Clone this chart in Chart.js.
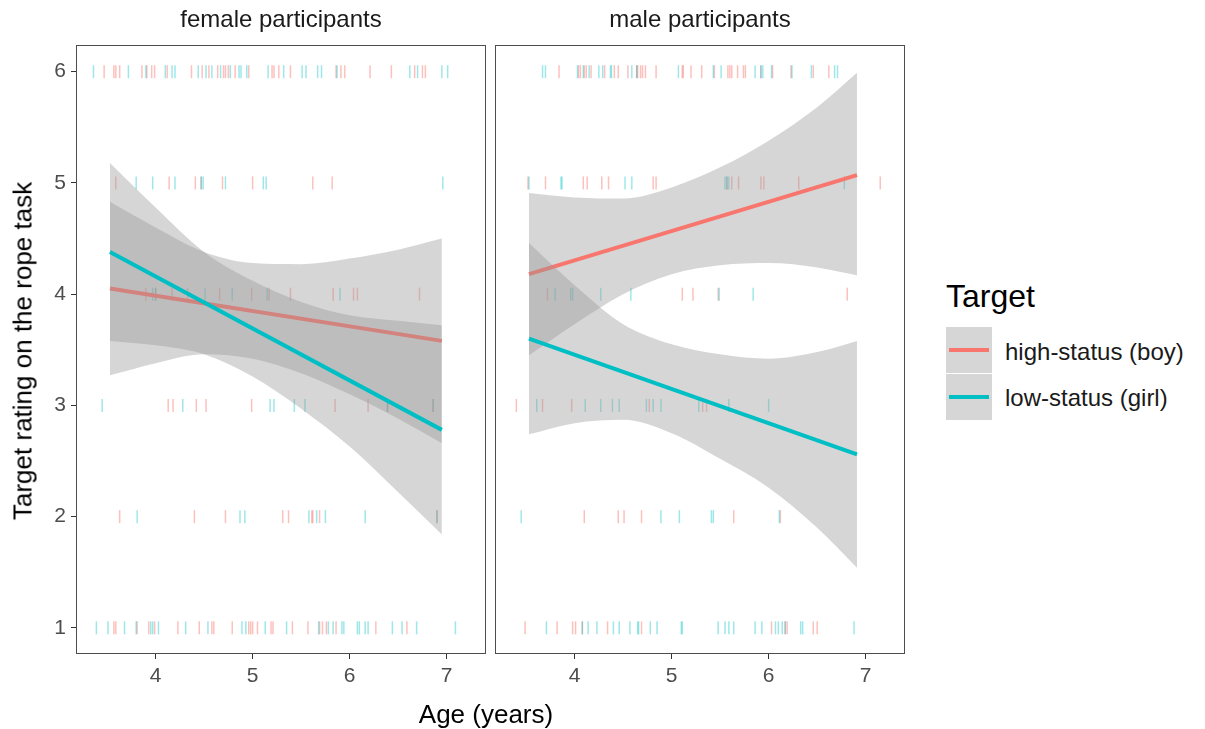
<!DOCTYPE html>
<html>
<head>
<meta charset="utf-8">
<script src="https://cdn.jsdelivr.net/npm/chart.js@4.4.1/dist/chart.umd.min.js"></script>
<style>
  body { margin: 0; background: #fff; width: 1205px; height: 729px; position: relative; overflow: hidden;
         font-family: "Liberation Sans", Arial, sans-serif; }
  .abs { position: absolute; }
  #c1 { left: 0; top: 0; }
  #c2 { left: 495px; top: 0; }
  .strip { top: 5px; font-size: 24px; color: #1a1a1a; text-align: center; width: 410px; }
  .key { left: 946px; width: 46px; height: 46px; background: #d6d6d6; }
  .key div { position: absolute; left: 3px; right: 3px; top: 21px; height: 4px; }
  .lab { left: 1005px; font-size: 24px; color: #1a1a1a; line-height: 28px; }
</style>
</head>
<body>
<canvas id="c1" class="abs" width="486" height="700"></canvas>
<canvas id="c2" class="abs" width="411" height="700"></canvas>

<div class="abs strip" style="left:76px">female participants</div>
<div class="abs strip" style="left:495px">male participants</div>
<div class="abs" style="left:0;width:972px;top:699px;text-align:center;font-size:26px;color:#000">Age (years)</div>
<div class="abs" style="left:23px;top:351px;font-size:26px;color:#000;white-space:nowrap;transform:translate(-50%,-50%) rotate(-90deg)">Target rating on the rope task</div>

<div class="abs" style="left:946px;top:278px;font-size:32px;color:#000">Target</div>
<div class="abs key" style="top:327px"><div style="background:#F8766D"></div></div>
<div class="abs key" style="top:374px"><div style="background:#00BFC4"></div></div>
<div class="abs lab" style="top:338px">high-status (boy)</div>
<div class="abs lab" style="top:384px">low-status (girl)</div>

<script>
// rug ticks: ages per rating, rows are ratings 6,5,4,3,2,1
const ratings = [6, 5, 4, 3, 2, 1];
const xTickValues = [4, 5, 6, 7];
const yTickValues = [1, 2, 3, 4, 5, 6];

const femaleHigh = [
  [3.47, 3.57, 3.59, 3.63, 3.86, 3.91, 3.96, 3.99, 4.12, 4.37, 4.48, 4.55, 4.64, 4.70, 4.72, 4.75, 4.82, 4.96, 5.20, 5.22, 5.27, 5.39, 5.86, 5.91, 5.95, 6.21, 6.43, 6.67, 6.75, 6.78],
  [3.59, 4.14, 4.41, 4.47, 4.69, 5.00, 5.62, 5.82],
  [3.90, 4.00, 4.17, 4.33, 4.66, 4.99, 5.17, 5.39, 5.83, 6.04, 6.08, 6.72],
  [4.13, 4.18, 4.42, 4.52, 4.99, 5.85, 6.19, 6.39, 6.86],
  [3.63, 4.40, 4.72, 5.31, 5.37, 5.61, 5.62, 5.69, 6.90],
  [3.57, 3.59, 3.81, 3.93, 3.99, 4.23, 4.45, 4.58, 4.60, 4.79, 4.96, 4.98, 5.00, 5.05, 5.19, 5.21, 5.41, 5.57, 5.69, 5.72, 5.76, 5.86, 6.27, 6.59]
];
const femaleLow = [
  [3.36, 3.72, 3.90, 4.10, 4.17, 4.20, 4.44, 4.52, 4.58, 4.67, 4.77, 4.86, 4.88, 4.94, 5.16, 5.32, 5.51, 5.55, 5.67, 5.71, 5.87, 6.62, 6.70, 6.95, 7.01],
  [3.80, 3.97, 4.20, 4.47, 4.49, 4.72, 5.11, 5.14, 6.96],
  [3.97, 4.00, 4.51, 4.79, 5.15, 5.90],
  [3.45, 4.28, 5.18, 5.22, 5.43, 5.54, 6.39, 6.86],
  [3.81, 4.87, 4.92, 5.58, 5.66, 5.75, 6.16, 6.90],
  [3.39, 3.51, 3.68, 3.80, 3.95, 3.97, 4.03, 4.31, 4.54, 4.89, 4.93, 5.13, 5.35, 5.68, 5.78, 5.83, 5.92, 5.94, 6.08, 6.10, 6.16, 6.19, 6.44, 6.54, 6.69, 7.09]
];
const maleHigh = [
  [3.84, 4.04, 4.06, 4.10, 4.12, 4.17, 4.31, 4.41, 4.45, 4.55, 4.64, 4.65, 4.68, 4.70, 4.73, 4.84, 5.11, 5.12, 5.20, 5.31, 5.44, 5.58, 5.60, 5.62, 5.68, 5.74, 5.76, 5.92, 6.04, 6.23, 6.46, 6.62],
  [3.52, 3.70, 4.09, 4.13, 4.28, 4.35, 4.81, 4.84, 5.57, 5.62, 5.69, 5.92, 5.95, 6.31, 7.15],
  [3.72, 5.11, 5.22, 5.48, 6.81],
  [3.40, 3.67, 3.97, 4.77, 5.32, 5.36],
  [4.10, 4.45, 4.51, 4.69, 5.64, 6.12],
  [3.49, 3.82, 3.98, 4.01, 4.08, 4.34, 4.69, 6.03, 6.17, 6.19, 6.46, 6.50]
];
const maleLow = [
  [3.67, 3.70, 4.03, 4.09, 4.15, 4.25, 4.29, 4.37, 4.38, 4.59, 4.64, 5.07, 5.43, 5.51, 5.86, 5.92, 5.94, 6.03, 6.24, 6.44, 6.68, 6.71],
  [3.53, 3.86, 3.87, 4.52, 4.59, 5.55, 5.57, 5.59, 6.78],
  [3.80, 3.96, 3.98, 4.27, 4.58, 5.49, 5.84],
  [3.61, 4.11, 4.27, 4.39, 4.46, 4.74, 4.81, 4.89, 5.28, 5.59, 6.00],
  [3.45, 4.89, 5.08, 5.41, 5.43, 6.11],
  [3.71, 4.08, 4.14, 4.23, 4.40, 4.46, 4.57, 4.65, 4.66, 4.78, 4.85, 5.10, 5.11, 5.48, 5.55, 5.59, 5.64, 5.86, 5.93, 6.07, 6.10, 6.14, 6.17, 6.33, 6.35, 6.88]
];

// fitted lines (end points) and confidence bands
const femaleFitEnds = [3.53, 6.95];
const maleFitEnds = [3.53, 6.91];
const femaleHighLine = [4.05, 3.58];
const femaleLowLine = [4.38, 2.78];
const maleHighLine = [4.18, 5.07];
const maleLowLine = [3.60, 2.56];

const femaleBandAges = [3.53, 4, 4.5, 5, 5.5, 6, 6.5, 6.95];
const maleBandAges = [3.53, 4, 4.5, 5, 5.5, 6, 6.5, 6.91];
const femaleHighUpper = [4.83, 4.60, 4.38, 4.28, 4.27, 4.32, 4.40, 4.50];
const femaleHighLower = [3.27, 3.38, 3.46, 3.42, 3.29, 3.10, 2.88, 2.66];
const femaleLowUpper = [5.18, 4.78, 4.38, 4.12, 3.93, 3.81, 3.76, 3.72];
const femaleLowLower = [3.58, 3.54, 3.46, 3.26, 2.97, 2.63, 2.22, 1.84];
const maleHighUpper = [4.91, 4.87, 4.86, 4.96, 5.14, 5.38, 5.68, 5.99];
const maleHighLower = [3.45, 3.73, 4.00, 4.18, 4.26, 4.28, 4.24, 4.17];
const maleLowUpper = [4.46, 4.08, 3.73, 3.55, 3.46, 3.42, 3.48, 3.58];
const maleLowLower = [2.74, 2.84, 2.87, 2.75, 2.52, 2.26, 1.90, 1.54];

const RED = '#F8766D';
const CYAN = '#00BFC4';
const BAND = 'rgba(153,153,153,0.4)';
const FONT = '"Liberation Sans", Arial, sans-serif';

function rugPoints(rows) {
  return rows.flatMap((ages, i) => ages.map(a => ({ x: a, y: ratings[i] })));
}
function toPoints(xs, ys) {
  return xs.map((x, i) => ({ x: x, y: ys[i] }));
}

function rug(rows, color, order) {
  return {
    data: rugPoints(rows), showLine: false, order: order,
    pointStyle: 'line', pointRotation: 90, pointRadius: 6.5,
    pointBorderColor: color, pointBorderWidth: 1.5
  };
}
function bandEdge(xs, ys, fillTo, order) {
  return {
    data: toPoints(xs, ys), pointRadius: 0, borderWidth: 0, order: order,
    cubicInterpolationMode: 'monotone',
    fill: fillTo === null ? false : fillTo, backgroundColor: BAND
  };
}
function fitLine(xs, ys, color, order) {
  return { data: toPoints(xs, ys), borderColor: color, borderWidth: 4, pointRadius: 0, fill: false, order: order };
}

const panelBorder = {
  id: 'panelBorder',
  afterDraw(chart) {
    const { ctx, chartArea: a } = chart;
    ctx.save();
    ctx.strokeStyle = '#4d4d4d';
    ctx.lineWidth = 1;
    ctx.strokeRect(a.left + 0.5, a.top + 0.5, a.right - a.left - 1, a.bottom - a.top - 1);
    ctx.restore();
  }
};

function makePanel(id, high, low, fitEnds, hiLine, loLine, bandAges, hiUp, hiLo, loUp, loLo, showY) {
  const datasets = [
    rug(high, 'rgba(248,118,109,0.45)', 10),
    rug(low, 'rgba(0,191,196,0.38)', 9),
    bandEdge(bandAges, hiLo, null, 8),
    bandEdge(bandAges, hiUp, 2, 7),
    fitLine(fitEnds, hiLine, RED, 6),
    bandEdge(bandAges, loLo, null, 5),
    bandEdge(bandAges, loUp, 5, 4),
    fitLine(fitEnds, loLine, CYAN, 3)
  ];
  const tickGrid = { display: true, drawOnChartArea: false, drawTicks: true, tickLength: 5, color: '#333', lineWidth: 1 };
  return new Chart(document.getElementById(id), {
    type: 'line',
    data: { datasets: datasets },
    options: {
      responsive: false, animation: false, events: [],
      layout: { autoPadding: false, padding: { top: 45, left: 0, right: showY ? 0 : 1, bottom: 0 } },
      plugins: { legend: { display: false }, tooltip: { enabled: false } },
      scales: {
        x: {
          type: 'linear', min: 3.18, max: 7.405,
          afterBuildTicks: s => { s.ticks = xTickValues.map(v => ({ value: v })); },
          afterFit: s => { s.height = 46; s.paddingLeft = 0; s.paddingRight = 0; },
          grid: tickGrid, border: { display: false },
          ticks: { font: { size: 21, family: FONT }, color: '#4d4d4d', padding: 5, maxRotation: 0 }
        },
        y: {
          type: 'linear', min: 0.765, max: 6.24, display: showY,
          afterBuildTicks: s => { s.ticks = yTickValues.map(v => ({ value: v })); },
          afterFit: s => { s.width = showY ? 76 : 0; s.paddingTop = 0; s.paddingBottom = 0; },
          grid: tickGrid, border: { display: false },
          ticks: { font: { size: 21, family: FONT }, color: '#4d4d4d', padding: 5 }
        }
      }
    },
    plugins: [panelBorder]
  });
}

makePanel('c1', femaleHigh, femaleLow, femaleFitEnds, femaleHighLine, femaleLowLine,
  femaleBandAges, femaleHighUpper, femaleHighLower, femaleLowUpper, femaleLowLower, true);
makePanel('c2', maleHigh, maleLow, maleFitEnds, maleHighLine, maleLowLine,
  maleBandAges, maleHighUpper, maleHighLower, maleLowUpper, maleLowLower, false);
</script>
</body>
</html>
